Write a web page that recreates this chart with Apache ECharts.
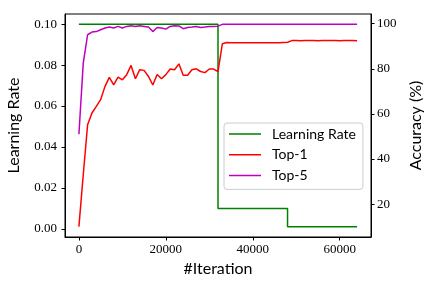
<!DOCTYPE html>
<html>
<head>
<meta charset="utf-8">
<script src="https://cdn.jsdelivr.net/npm/echarts@6/dist/echarts.min.js"></script>
<style>html,body{margin:0;padding:0;background:#fff;}#c{width:432px;height:288px;}</style>
</head>
<body>
<div id="c"></div>
<script>
var iterations = [0,1000,2000,3000,4000,5000,6000,7000,8000,9000,10000,11000,12000,13000,14000,15000,16000,17000,18000,19000,20000,21000,22000,23000,24000,25000,26000,27000,28000,29000,30000,31000,32000,33000,34000,35000,36000,37000,38000,39000,40000,41000,42000,43000,44000,45000,46000,47000,48000,49000,50000,51000,52000,53000,54000,55000,56000,57000,58000,59000,60000,61000,62000,63000,64000];
var top1 = [10,33,55.2,60.4,63.3,66.3,72.2,76.2,72.9,76.3,75.1,77.4,81.5,75.6,79.6,79.3,76.6,72.8,77.5,75.6,77.4,79.9,79.6,82.2,77.1,77.1,79.6,80.0,78.8,78.3,79.9,79.9,78.7,91.1,91.7,91.6,91.6,91.5,91.6,91.5,91.6,91.5,91.6,91.6,91.5,91.6,91.6,91.7,91.8,92.5,92.5,92.4,92.5,92.5,92.5,92.4,92.5,92.5,92.5,92.5,92.4,92.5,92.5,92.5,92.4];
var top5 = [51,82.5,95.1,96.3,96.5,97.3,98.1,98.5,98.1,98.8,98.1,98.8,99.1,98.8,99.1,98.8,98.5,96.5,98.3,98.1,97.6,98.8,99.1,99.0,97.8,98.3,98.5,98.8,98.3,98.5,98.8,98.8,98.9,99.7,99.8,99.8,99.8,99.8,99.8,99.8,99.8,99.8,99.8,99.8,99.8,99.8,99.8,99.8,99.8,99.8,99.8,99.8,99.8,99.8,99.8,99.8,99.8,99.8,99.8,99.8,99.8,99.8,99.8,99.8,99.8];
var lrIter = [0,32000,32000,48000,48000,64000];
var lrValue = [0.1,0.1,0.01,0.01,0.001,0.001];
var xTicks = [0,20000,40000,60000];
var lrTicks = [0,0.02,0.04,0.06,0.08,0.1];
var accTicks = [20,40,60,80,100];

function pairs(xs, ys){ return xs.map(function(x,i){ return [x, ys[i]]; }); }

var serif = 'Liberation Serif';
var sans = 'Lato';
var lineIcon = 'path://M0,0L0,14L0,0Z M0,6.25L32,6.25L32,7.75L0,7.75Z';
var chart = echarts.init(document.getElementById('c'), null, {renderer:'canvas'});
chart.setOption({
  animation: false,
  backgroundColor: '#fff',
  grid: {left: 65, right: 61, top: 14, bottom: 51, containLabel: false, outerBoundsMode: 'none', show: true, borderColor: '#000', borderWidth: 1, backgroundColor: 'transparent'},
  xAxis: {
    type: 'value', min: -3200, max: 67200,
    name: '#Iteration', nameLocation: 'middle', nameGap: 24,
    nameTextStyle: {fontFamily: sans, fontSize: 16, color: '#000'},
    axisLine: {show: true, onZero: false, lineStyle: {color: '#000', width: 1}},
    axisTick: {show: true, length: 3.5, lineStyle: {color: '#000'}, customValues: xTicks},
    axisLabel: {customValues: xTicks, fontFamily: serif, fontSize: 13, color: '#000', margin: 6, formatter: function(v){ return String(v); }},
    splitLine: {show: false}
  },
  yAxis: [{
    type: 'value', position: 'left', min: -0.00395, max: 0.10495,
    name: 'Learning Rate', nameLocation: 'middle', nameGap: 43, nameRotate: 90,
    nameTextStyle: {fontFamily: sans, fontSize: 16, color: '#000'},
    axisLine: {show: true, onZero: false, lineStyle: {color: '#000', width: 1}},
    axisTick: {show: true, length: 3.5, lineStyle: {color: '#000'}, customValues: lrTicks},
    axisLabel: {customValues: lrTicks, fontFamily: serif, fontSize: 13, color: '#000', margin: 8, formatter: function(v){ return v.toFixed(2); }},
    splitLine: {show: false}
  }, {
    type: 'value', position: 'right', min: 5.4, max: 104.3,
    name: 'Accuracy (%)', nameLocation: 'middle', nameGap: 33, nameRotate: 90,
    nameTextStyle: {fontFamily: sans, fontSize: 16, color: '#000'},
    axisLine: {show: true, onZero: false, lineStyle: {color: '#000', width: 1}},
    axisTick: {show: true, length: 3.5, lineStyle: {color: '#000'}, customValues: accTicks},
    axisLabel: {customValues: accTicks, fontFamily: serif, fontSize: 13, color: '#000', margin: 6, formatter: function(v){ return String(v); }},
    splitLine: {show: false}
  }],
  legend: {
    orient: 'vertical', left: 224, top: 123,
    data: [{name: 'Learning Rate', icon: lineIcon}, {name: 'Top-1', icon: lineIcon}, {name: 'Top-5', icon: lineIcon}],
    itemWidth: 32, itemHeight: 14, itemGap: 6.7,
    padding: [4, 7, 7, 5],
    backgroundColor: 'rgba(255,255,255,0.8)', borderColor: '#cccccc', borderWidth: 1, borderRadius: 3,
    textStyle: {fontFamily: sans, fontSize: 14, color: '#000', padding: [0,0,0,6]}
  },
  series: [{
    name: 'Learning Rate', type: 'line', yAxisIndex: 0, data: pairs(lrIter, lrValue),
    symbol: 'none', lineStyle: {color: '#008000', width: 1.5}, itemStyle: {color: '#008000'}, z: 1
  }, {
    name: 'Top-1', type: 'line', yAxisIndex: 1, data: pairs(iterations, top1),
    symbol: 'none', lineStyle: {color: '#ff0000', width: 1.5}, itemStyle: {color: '#ff0000'}, z: 2
  }, {
    name: 'Top-5', type: 'line', yAxisIndex: 1, data: pairs(iterations, top5),
    symbol: 'none', lineStyle: {color: '#bf00bf', width: 1.5}, itemStyle: {color: '#bf00bf'}, z: 3
  }]
});
</script>
</body>
</html>
